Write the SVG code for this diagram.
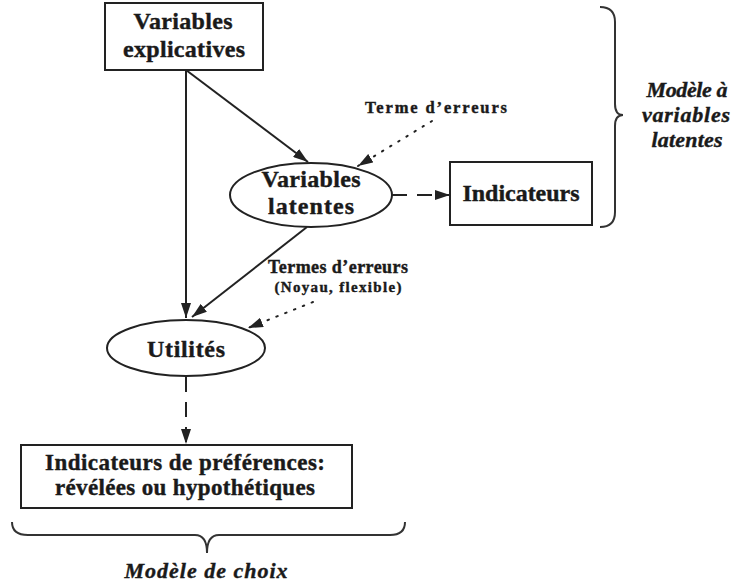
<svg xmlns="http://www.w3.org/2000/svg" width="734" height="587" viewBox="0 0 734 587">
  <style>
    .box { fill: #fff; stroke: #222; stroke-width: 2; }
    .t { font-family: "Liberation Serif", "Times New Roman", serif; font-weight: 700; fill: #1a1a1a; stroke: #1a1a1a; stroke-width: 0.4; text-anchor: middle; }
    .it { font-style: italic; }
    .edge { fill: none; stroke: #222; stroke-width: 2; }
    .dash { stroke-dasharray: 15 10; }
    .dot { stroke-dasharray: 1.5 8; stroke-linecap: round; stroke-width: 2; }
    .brace { fill: none; stroke: #333; stroke-width: 2; }
  </style>
  <defs>
    <marker id="arrow" viewBox="0 0 15 10" refX="15" refY="5" markerWidth="15" markerHeight="10" markerUnits="userSpaceOnUse" orient="auto">
      <path d="M0,0 L15,5 L0,10 Z" fill="#222"/>
    </marker>
  </defs>

  <rect width="734" height="587" fill="#fff"/>

  <!-- connectors -->
  <g id="connectors">
    <line class="edge" x1="186" y1="70" x2="186" y2="318" marker-end="url(#arrow)"/>
    <line class="edge" x1="186" y1="70" x2="308" y2="162" marker-end="url(#arrow)"/>
    <line class="edge" x1="307" y1="227" x2="192" y2="317" marker-end="url(#arrow)"/>
    <line class="edge dash" x1="392" y1="195" x2="450" y2="195" marker-end="url(#arrow)"/>
    <line class="edge dash" x1="186" y1="377" x2="186" y2="444" marker-end="url(#arrow)"/>
    <line class="edge dot" x1="432" y1="121" x2="358" y2="166" marker-end="url(#arrow)"/>
    <line class="edge dot" x1="313" y1="302" x2="248" y2="328" marker-end="url(#arrow)"/>
  </g>

  <g id="variables-explicatives">
    <rect class="box" x="105" y="3" width="158" height="67"/>
    <text class="t" x="183" y="29" font-size="24" textLength="99" lengthAdjust="spacing">Variables</text>
    <text class="t" x="184" y="57" font-size="24" textLength="122" lengthAdjust="spacing">explicatives</text>
  </g>

  <g id="variables-latentes">
    <ellipse class="box" cx="311" cy="195" rx="81" ry="32"/>
    <text class="t" x="311" y="187" font-size="24" textLength="99" lengthAdjust="spacing">Variables</text>
    <text class="t" x="311" y="214" font-size="24" textLength="86" lengthAdjust="spacing">latentes</text>
  </g>

  <g id="indicateurs">
    <rect class="box" x="450" y="162" width="142" height="63"/>
    <text class="t" x="521" y="201" font-size="24" textLength="117" lengthAdjust="spacing">Indicateurs</text>
  </g>

  <g id="utilites">
    <ellipse class="box" cx="186" cy="348" rx="79" ry="28"/>
    <text class="t" x="186" y="357" font-size="24" textLength="78" lengthAdjust="spacing">Utilités</text>
  </g>

  <g id="indicateurs-preferences">
    <rect class="box" x="21" y="445" width="331" height="63"/>
    <text class="t" x="185" y="470" font-size="23" textLength="280" lengthAdjust="spacing">Indicateurs de préférences:</text>
    <text class="t" x="185" y="495" font-size="23" textLength="260" lengthAdjust="spacing">révélées ou hypothétiques</text>
  </g>

  <g id="labels">
    <text class="t" x="436" y="113" font-size="16.5" textLength="142" lengthAdjust="spacing">Terme d’erreurs</text>
    <text class="t" x="338" y="273" font-size="18" textLength="140" lengthAdjust="spacing">Termes d’erreurs</text>
    <text class="t" x="338" y="292" font-size="15" textLength="127" lengthAdjust="spacing">(Noyau, flexible)</text>
  </g>

  <g id="modele-variables-latentes">
    <path class="brace" d="M600,7 Q615,7 615,22 L615,104 Q615,115 623,115 Q615,115 615,126 L615,212 Q615,227 600,227"/>
    <text class="t it" x="687" y="97" font-size="22" textLength="81" lengthAdjust="spacing">Modèle à</text>
    <text class="t it" x="686" y="122" font-size="22" textLength="88" lengthAdjust="spacing">variables</text>
    <text class="t it" x="687" y="147" font-size="22" textLength="71" lengthAdjust="spacing">latentes</text>
  </g>

  <g id="modele-choix">
    <path class="brace" d="M12,522 Q12,535 28,535 L195,535 Q207,535 207,553 Q207,535 219,535 L390,535 Q405,535 405,522"/>
    <text class="t it" x="206" y="578" font-size="22" textLength="163" lengthAdjust="spacing">Modèle de choix</text>
  </g>
</svg>
